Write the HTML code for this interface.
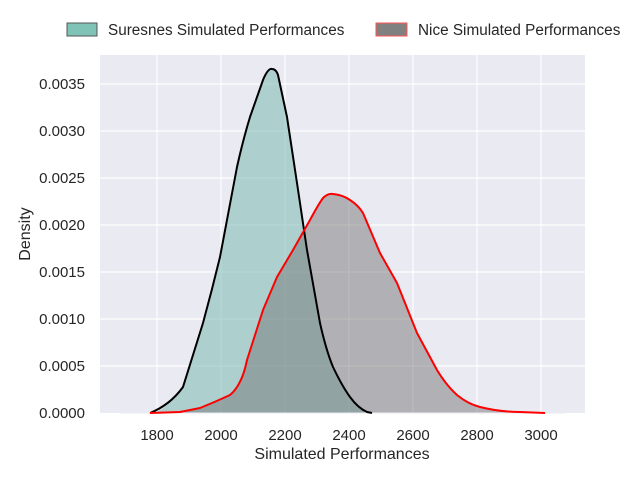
<!DOCTYPE html>
<html><head><meta charset="utf-8"><style>
body{margin:0;background:#fff;width:640px;height:480px;overflow:hidden}
text{font-family:"Liberation Sans",sans-serif;fill:#262626}
</style></head><body>
<svg width="640" height="480" xmlns="http://www.w3.org/2000/svg">
<rect x="100" y="55" width="485" height="358" fill="#eaeaf2"/>
<g stroke="#fff" stroke-width="1.2">
<line x1="157" y1="55" x2="157" y2="413"/><line x1="221" y1="55" x2="221" y2="413"/>
<line x1="285" y1="55" x2="285" y2="413"/><line x1="349" y1="55" x2="349" y2="413"/>
<line x1="413" y1="55" x2="413" y2="413"/><line x1="477" y1="55" x2="477" y2="413"/>
<line x1="541" y1="55" x2="541" y2="413"/>
<line x1="100" y1="366" x2="585" y2="366"/><line x1="100" y1="319" x2="585" y2="319"/>
<line x1="100" y1="272" x2="585" y2="272"/><line x1="100" y1="225" x2="585" y2="225"/>
<line x1="100" y1="178" x2="585" y2="178"/><line x1="100" y1="131" x2="585" y2="131"/>
<line x1="100" y1="84" x2="585" y2="84"/>
</g>
<path id="s" d="M157,412 Q170,405 183,387 L203,323 Q212,290 220,257 L237,167 Q243,140 250,117 L263,80 Q268,68 272,69 Q276,69 278,75 L287,117 L297,183 L307,250 L320,323 Q326,350 333,367 Q342,386 350,397 Q358,408 367,412 L380,413" fill="none"/>
<path d="M120,413 L150,413 L157,412 Q170,405 183,387 L203,323 Q212,290 220,257 L237,167 Q243,140 250,117 L263,80 Q268,68 272,69 Q276,69 278,75 L287,117 L297,183 L307,250 L320,323 Q326,350 333,367 Q342,386 350,397 Q358,408 367,412 L380,413 Z" fill="#7ab8b0" fill-opacity="0.55"/>
<path d="M120,413 L150,413 L180,412 L200,408 Q215,402 230,395 Q242,385 247,360 L263,310 L277,277 L293,250 L310,220 Q318,205 323,198 Q328,193 333,194 Q343,195 350,200 Q358,205 363,213 L380,253 L397,283 L417,333 L437,370 Q446,385 457,395 Q468,404 480,407 Q500,412 520,412 L565,413 Z" fill="#777" fill-opacity="0.5"/>
<line x1="120" y1="413" x2="565" y2="413" stroke="#eaeaf2" stroke-width="1"/>
<path d="M150,413 Q170,405 183,387 L203,323 Q212,290 220,257 L237,167 Q243,140 250,117 L263,80 Q268,68 272,69 Q276,69 278,75 L287,117 L297,183 L307,250 L320,323 Q326,350 333,367 Q342,386 350,397 Q358,408 367,412 L372,413" fill="none" stroke="#000" stroke-width="2" stroke-linejoin="round"/>
<path d="M150,413 L180,412 L200,408 Q215,402 230,395 Q242,385 247,360 L263,310 L277,277 L293,250 L310,220 Q318,205 323,198 Q328,193 333,194 Q343,195 350,200 Q358,205 363,213 L380,253 L397,283 L417,333 L437,370 Q446,385 457,395 Q468,404 480,407 Q500,412 520,412 L545,413" fill="none" stroke="#f00" stroke-width="2" stroke-linejoin="round"/>
<g font-size="15" text-anchor="end">
<text x="85" y="418">0.0000</text><text x="85" y="371">0.0005</text>
<text x="85" y="324">0.0010</text><text x="85" y="277">0.0015</text>
<text x="85" y="230">0.0020</text><text x="85" y="183">0.0025</text>
<text x="85" y="136">0.0030</text><text x="85" y="89">0.0035</text>
</g>
<g font-size="15" text-anchor="middle">
<text x="157" y="440">1800</text><text x="221" y="440">2000</text>
<text x="285" y="440">2200</text><text x="349" y="440">2400</text>
<text x="413" y="440">2600</text><text x="477" y="440">2800</text>
<text x="541" y="440">3000</text>
<text x="342" y="459" font-size="16">Simulated Performances</text>
<text x="30" y="234" font-size="16" transform="rotate(-90 30 234)">Density</text>
</g>
<rect x="67" y="23" width="30" height="13" fill="#7fc3b6" stroke="#555" stroke-width="1"/>
<text x="108" y="35" font-size="15.3">Suresnes Simulated Performances</text>
<rect x="376" y="23" width="31" height="13" fill="#808080" stroke="#f55" stroke-width="1"/>
<text x="418" y="35" font-size="15.3">Nice Simulated Performances</text>
</svg>
</body></html>
